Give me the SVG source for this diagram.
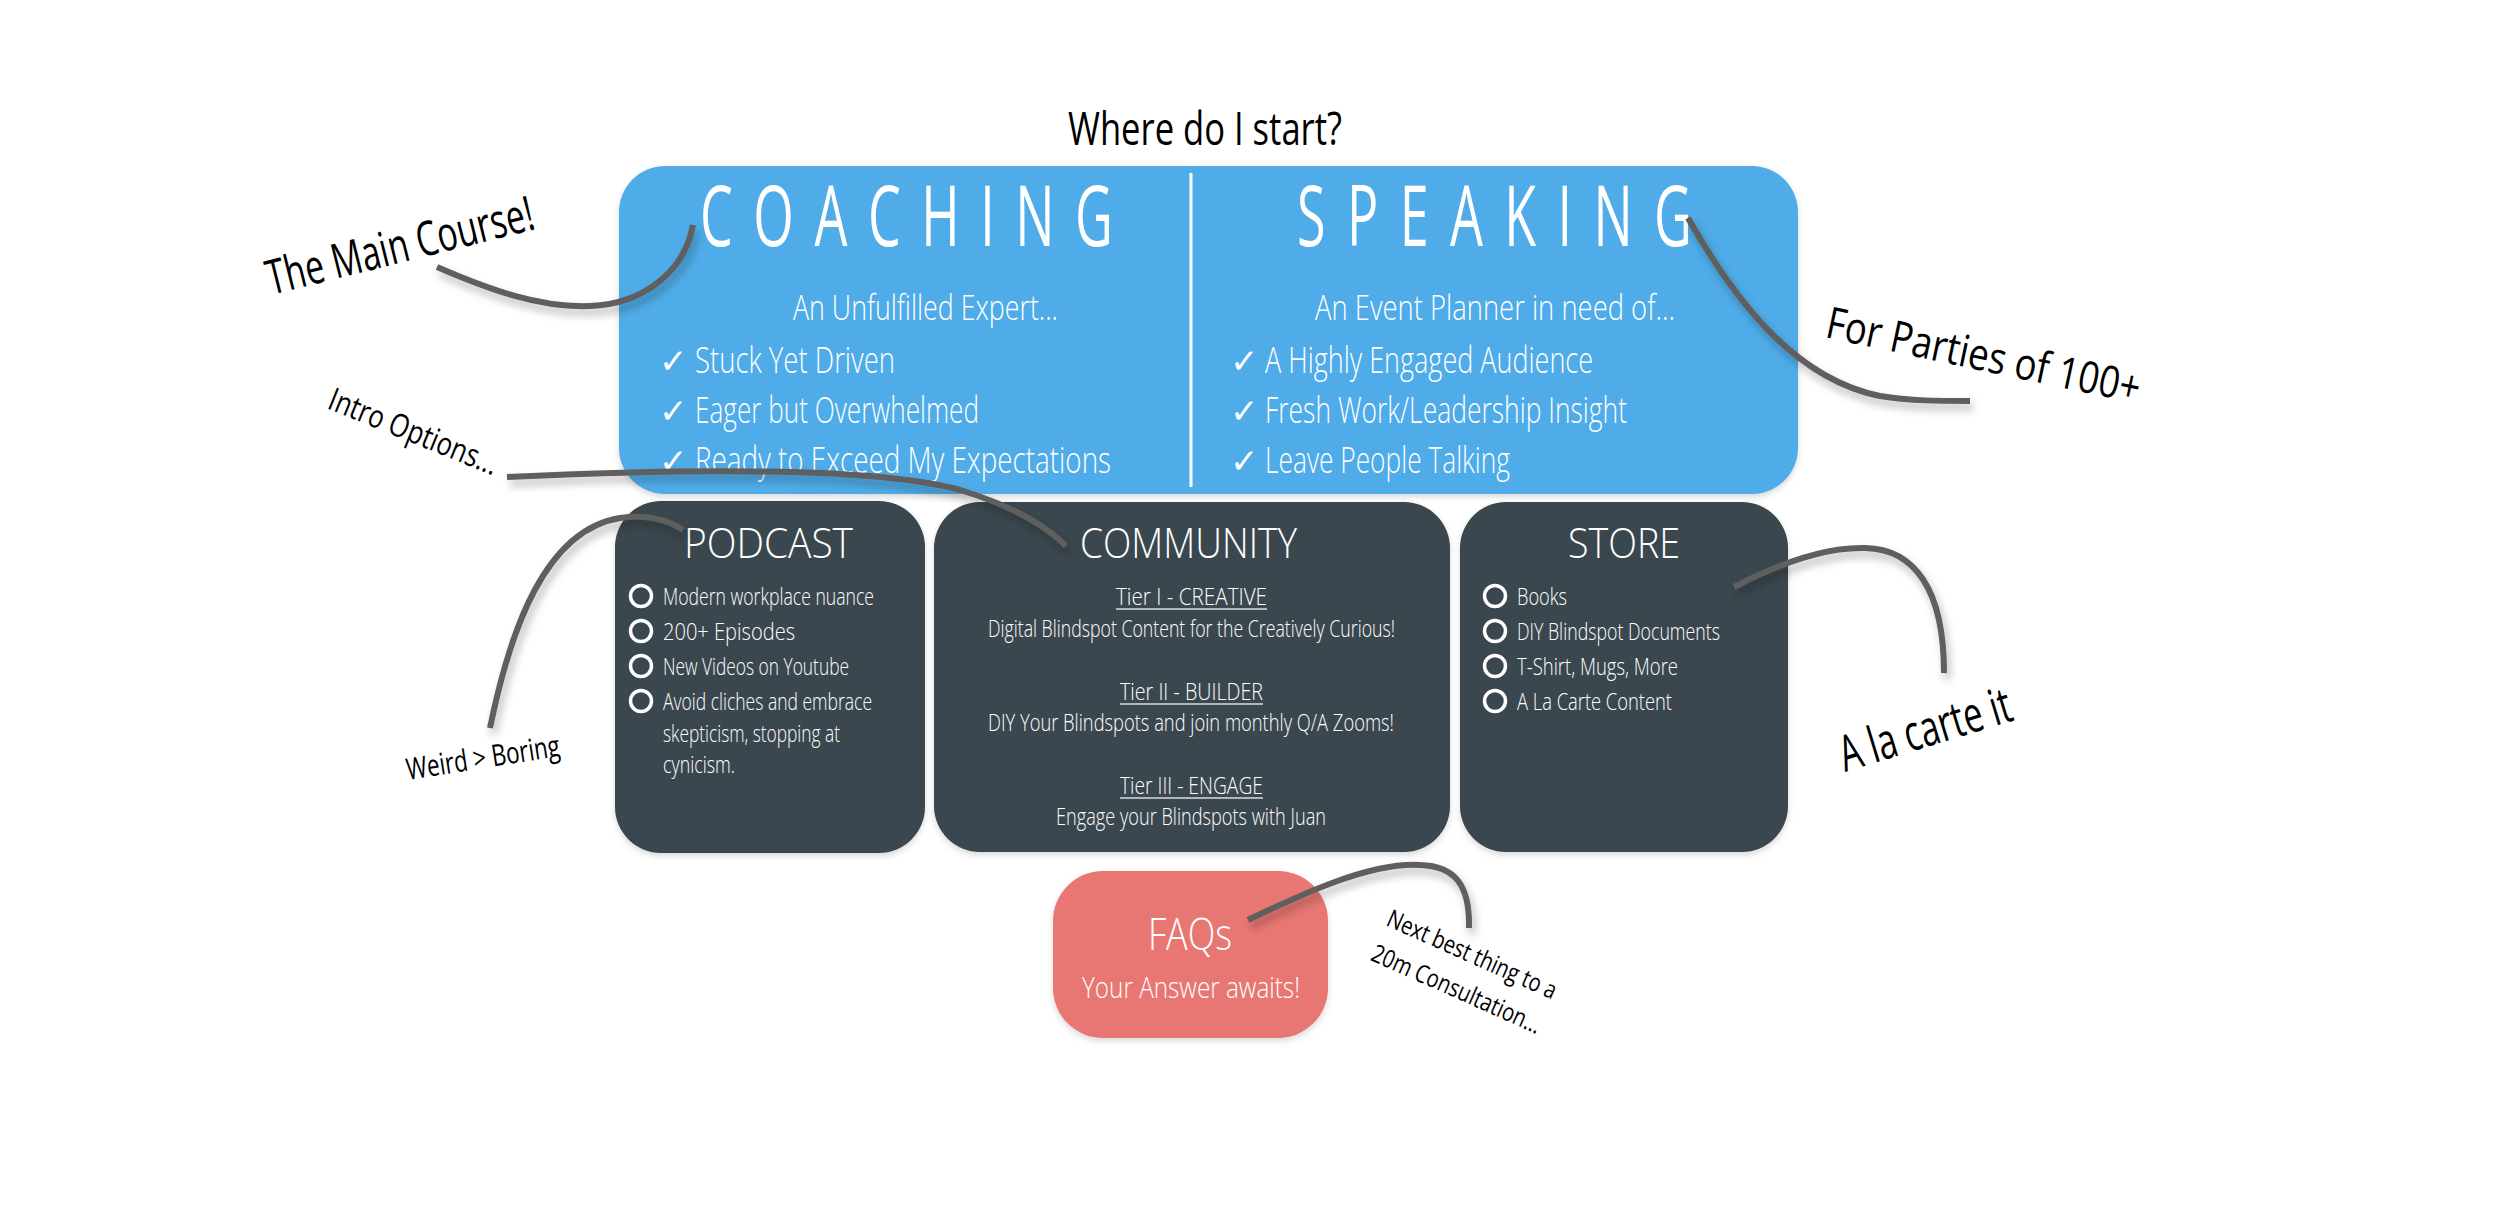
<svg xmlns="http://www.w3.org/2000/svg" width="2500" height="1219" viewBox="0 0 2500 1219">
<style>
.w{fill:#ffffff;font-family:"Open Sans","Noto Sans","Liberation Sans",sans-serif;font-weight:300}
.big{fill:#ffffff;font-family:"Open Sans","Noto Sans","Liberation Sans",sans-serif;font-weight:400}
.k{fill:#000000;font-family:"Open Sans","Noto Sans","Liberation Sans",sans-serif;font-weight:400}
.ck{fill:#ffffff;font-family:"DejaVu Sans",sans-serif;font-size:34px}
.bul{fill:none;stroke:#ffffff;stroke-width:3.5}
.ul{stroke:#d8dde0;stroke-width:1.6}
.conn{fill:none;stroke:#5e5e5e;stroke-width:6;stroke-linecap:butt}
.dark{fill:#3b4650}
</style>
<defs>
<filter id="sh" x="-20%" y="-20%" width="140%" height="140%">
<feDropShadow dx="3" dy="6" stdDeviation="4" flood-color="#000" flood-opacity="0.28"/>
</filter>
<filter id="bs" x="-10%" y="-10%" width="120%" height="120%">
<feDropShadow dx="0" dy="3" stdDeviation="3" flood-color="#000" flood-opacity="0.15"/>
</filter>
</defs>
<rect width="2500" height="1219" fill="#ffffff"/>

<g id="title">
<text class="k" x="1068" y="145" font-size="46" textLength="274" lengthAdjust="spacingAndGlyphs">Where do I start?</text>
</g>

<g id="top-box">
<rect x="619" y="166" width="1179" height="328" rx="46" fill="#50ace8" filter="url(#bs)"/>
<line x1="1191" y1="173" x2="1191" y2="487" stroke="#ffffff" stroke-width="3"/>
</g>

<g id="coaching">
<text class="big" transform="translate(700,246) scale(0.62,1)" font-size="84" textLength="666" lengthAdjust="spacing">COACHING</text>
<text class="w" x="793" y="320" font-size="34" textLength="265" lengthAdjust="spacingAndGlyphs">An Unfulfilled Expert...</text>
<text class="ck" x="659" y="373">✓</text>
<text class="w" x="695" y="373" font-size="36" textLength="200" lengthAdjust="spacingAndGlyphs">Stuck Yet Driven</text>
<text class="ck" x="659" y="423">✓</text>
<text class="w" x="695" y="423" font-size="36" textLength="284" lengthAdjust="spacingAndGlyphs">Eager but Overwhelmed</text>
<text class="ck" x="659" y="473">✓</text>
<text class="w" x="695" y="473" font-size="36" textLength="416" lengthAdjust="spacingAndGlyphs">Ready to Exceed My Expectations</text>
</g>

<g id="speaking">
<text class="big" transform="translate(1297,246) scale(0.62,1)" font-size="84" textLength="637" lengthAdjust="spacing">SPEAKING</text>
<text class="w" x="1315" y="320" font-size="34" textLength="360" lengthAdjust="spacingAndGlyphs">An Event Planner in need of...</text>
<text class="ck" x="1230" y="373">✓</text>
<text class="w" x="1265" y="373" font-size="36" textLength="328" lengthAdjust="spacingAndGlyphs">A Highly Engaged Audience</text>
<text class="ck" x="1230" y="423">✓</text>
<text class="w" x="1265" y="423" font-size="36" textLength="362" lengthAdjust="spacingAndGlyphs">Fresh Work/Leadership Insight</text>
<text class="ck" x="1230" y="473">✓</text>
<text class="w" x="1265" y="473" font-size="36" textLength="245" lengthAdjust="spacingAndGlyphs">Leave People Talking</text>
</g>

<g id="podcast">
<rect class="dark" x="615" y="501" width="310" height="352" rx="46" filter="url(#bs)"/>
<text class="w" x="684" y="558" font-size="42" textLength="169" lengthAdjust="spacingAndGlyphs">PODCAST</text>
<circle class="bul" cx="641" cy="596" r="10.5"/>
<text class="w" x="663" y="605" font-size="23" textLength="211" lengthAdjust="spacingAndGlyphs">Modern workplace nuance</text>
<circle class="bul" cx="641" cy="631" r="10.5"/>
<text class="w" x="663" y="640" font-size="23" textLength="132" lengthAdjust="spacingAndGlyphs">200+ Episodes</text>
<circle class="bul" cx="641" cy="666" r="10.5"/>
<text class="w" x="663" y="675" font-size="23" textLength="186" lengthAdjust="spacingAndGlyphs">New Videos on Youtube</text>
<circle class="bul" cx="641" cy="701" r="10.5"/>
<text class="w" x="663" y="710" font-size="23" textLength="209" lengthAdjust="spacingAndGlyphs">Avoid cliches and embrace</text>
<text class="w" x="663" y="742" font-size="23" textLength="177" lengthAdjust="spacingAndGlyphs">skepticism, stopping at</text>
<text class="w" x="663" y="773" font-size="23" textLength="72" lengthAdjust="spacingAndGlyphs">cynicism.</text>
</g>

<g id="community">
<rect class="dark" x="934" y="502" width="516" height="350" rx="46" filter="url(#bs)"/>
<text class="w" x="1080" y="558" font-size="42" textLength="217" lengthAdjust="spacingAndGlyphs">COMMUNITY</text>
<text class="w" x="1116" y="605" font-size="23" textLength="151" lengthAdjust="spacingAndGlyphs">Tier I - CREATIVE</text>
<line class="ul" x1="1116" y1="609" x2="1267" y2="609"/>
<text class="w" x="988" y="637" font-size="23" textLength="407" lengthAdjust="spacingAndGlyphs">Digital Blindspot Content for the Creatively Curious!</text>
<text class="w" x="1120" y="700" font-size="23" textLength="143" lengthAdjust="spacingAndGlyphs">Tier II - BUILDER</text>
<line class="ul" x1="1120" y1="704" x2="1263" y2="704"/>
<text class="w" x="988" y="731" font-size="23" textLength="406" lengthAdjust="spacingAndGlyphs">DIY Your Blindspots and join monthly Q/A Zooms!</text>
<text class="w" x="1120" y="794" font-size="23" textLength="143" lengthAdjust="spacingAndGlyphs">Tier III - ENGAGE</text>
<line class="ul" x1="1120" y1="798" x2="1263" y2="798"/>
<text class="w" x="1056" y="825" font-size="23" textLength="270" lengthAdjust="spacingAndGlyphs">Engage your Blindspots with Juan</text>
</g>

<g id="store">
<rect class="dark" x="1460" y="502" width="328" height="350" rx="46" filter="url(#bs)"/>
<text class="w" x="1568" y="558" font-size="42" textLength="112" lengthAdjust="spacingAndGlyphs">STORE</text>
<circle class="bul" cx="1495" cy="596" r="10.5"/>
<text class="w" x="1517" y="605" font-size="23" textLength="50" lengthAdjust="spacingAndGlyphs">Books</text>
<circle class="bul" cx="1495" cy="631" r="10.5"/>
<text class="w" x="1517" y="640" font-size="23" textLength="203" lengthAdjust="spacingAndGlyphs">DIY Blindspot Documents</text>
<circle class="bul" cx="1495" cy="666" r="10.5"/>
<text class="w" x="1517" y="675" font-size="23" textLength="161" lengthAdjust="spacingAndGlyphs">T-Shirt, Mugs, More</text>
<circle class="bul" cx="1495" cy="701" r="10.5"/>
<text class="w" x="1517" y="710" font-size="23" textLength="155" lengthAdjust="spacingAndGlyphs">A La Carte Content</text>
</g>

<g id="faqs">
<rect x="1053" y="871" width="275" height="167" rx="50" fill="#e87773" filter="url(#bs)"/>
<text class="w" x="1148" y="950" font-size="44" textLength="84" lengthAdjust="spacingAndGlyphs">FAQs</text>
<text class="w" x="1082" y="998" font-size="30" textLength="218" lengthAdjust="spacingAndGlyphs">Your Answer awaits!</text>
</g>

<g id="notes">
<text class="k" transform="translate(271,295) rotate(-14)" font-size="48" textLength="274" lengthAdjust="spacingAndGlyphs">The Main Course!</text>
<text class="k" transform="translate(326,408) rotate(22)" font-size="32" textLength="180" lengthAdjust="spacingAndGlyphs">Intro Options...</text>
<text class="k" transform="translate(408,780) rotate(-9)" font-size="30" textLength="155" lengthAdjust="spacingAndGlyphs">Weird &gt; Boring</text>
<text class="k" transform="translate(1824,337) rotate(12)" font-size="44" textLength="320" lengthAdjust="spacingAndGlyphs">For Parties of 100+</text>
<text class="k" transform="translate(1845,772) rotate(-17)" font-size="50" textLength="178" lengthAdjust="spacingAndGlyphs">A la carte it</text>
<g transform="translate(1385,925) rotate(24)">
<text class="k" x="0" y="0" font-size="25" textLength="183" lengthAdjust="spacingAndGlyphs">Next best thing to a</text>
<text class="k" x="0" y="38" font-size="25" textLength="183" lengthAdjust="spacingAndGlyphs">20m Consultation...</text>
</g>
</g>

<g id="connectors" filter="url(#sh)">
<path class="conn" d="M437,267 C490,290 540,308 590,306 C645,304 685,270 693,225"/>
<path class="conn" d="M507,477 C700,468 880,468 960,490 C1010,505 1045,525 1066,546"/>
<path class="conn" d="M490,728 C510,630 545,530 620,518 C648,514 668,520 683,530"/>
<path class="conn" d="M1688,218 C1740,310 1800,380 1880,396 C1910,401 1940,401 1970,401"/>
<path class="conn" d="M1734,587 C1780,563 1825,547 1865,548 C1915,549 1944,590 1944,673"/>
<path class="conn" d="M1248,920 C1300,895 1370,862 1420,865 C1455,866 1470,885 1469,928"/>
</g>
</svg>
